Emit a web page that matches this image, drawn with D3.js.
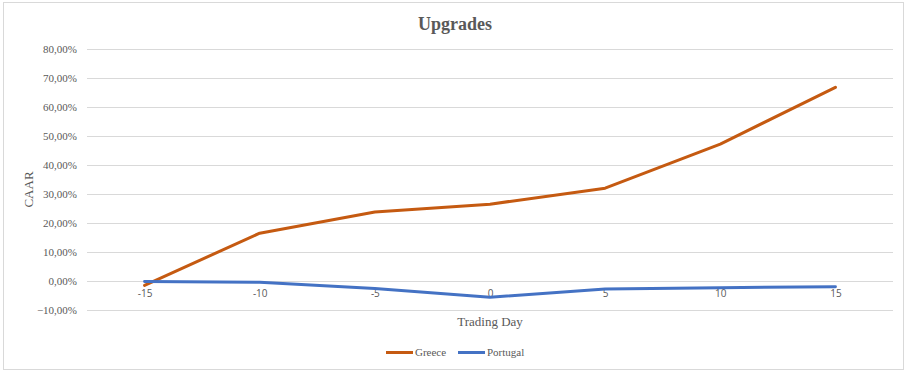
<!DOCTYPE html>
<html>
<head>
<meta charset="utf-8">
<script src="https://cdn.jsdelivr.net/npm/d3@7"></script>
<style>
  html, body { margin: 0; padding: 0; background: #fff; }
  svg { display: block; }
</style>
</head>
<body>
<svg id="chart" width="907" height="371"></svg>
<script>
// Trading days relative to the event
const days = [-15, -10, -5, 0, 5, 10, 15];
// Cumulative average abnormal returns (%)
const greece = [-1.5, 16.5, 23.8, 26.5, 32.0, 47.2, 66.8];
const portugal = [-0.2, -0.4, -2.6, -5.6, -2.8, -2.3, -2.0];
const yTicks = [-10, 0, 10, 20, 30, 40, 50, 60, 70, 80];
const seriesNames = ["Greece", "Portugal"];
const seriesColors = ["#C55A11", "#4472C4"];

const svg = d3.select("#chart");
const W = 907, H = 371;
const font = "'Liberation Serif', 'Times New Roman', serif";
const sans = "'Open Sans', 'Liberation Sans', sans-serif";
const textCol = "#595959";

// Outer chart frame
svg.append("rect")
  .attr("x", 3.5).attr("y", 2.5)
  .attr("width", W - 7).attr("height", H - 4)
  .attr("fill", "#fff")
  .attr("stroke", "#d9d9d9").attr("stroke-width", 1);

const plot = { left: 87, right: 893, top: 49, bottom: 310 };

const x = d3.scalePoint()
  .domain(days)
  .range([plot.left, plot.right])
  .padding(0.5);

const y = d3.scaleLinear()
  .domain([-10, 80])
  .range([plot.bottom, plot.top]);

// Horizontal gridlines
svg.append("g")
  .selectAll("line")
  .data(yTicks)
  .join("line")
  .attr("x1", plot.left).attr("x2", plot.right)
  .attr("y1", d => Math.round(y(d)) + 0.5)
  .attr("y2", d => Math.round(y(d)) + 0.5)
  .attr("stroke", "#d9d9d9").attr("stroke-width", 1);

// Y axis labels
const fmtPct = d => d3.format(".2f")(d).replace(".", ",") + "%";
const yAxis = d3.axisLeft(y).tickValues(yTicks).tickFormat(fmtPct).tickSize(0).tickPadding(0);
const gy = svg.append("g")
  .attr("transform", `translate(${plot.left - 10},0)`)
  .call(yAxis);
gy.select(".domain").remove();
gy.selectAll("text")
  .attr("font-family", font).attr("font-size", "11px").attr("fill", textCol);

// X axis labels sit just below the zero line
const xAxis = d3.axisBottom(x).tickSize(0).tickPadding(0);
const gx = svg.append("g")
  .attr("transform", `translate(0,${y(0) + 9})`)
  .call(xAxis);
gx.select(".domain").remove();
gx.selectAll("text")
  .attr("font-family", sans).attr("font-size", "10px").attr("fill", textCol);

// Series lines
const line = d3.line()
  .x((d, i) => x(days[i]))
  .y(d => y(d));

[greece, portugal].forEach((vals, i) => {
  svg.append("path")
    .datum(vals)
    .attr("d", line)
    .attr("fill", "none")
    .attr("stroke", seriesColors[i])
    .attr("stroke-width", 3)
    .attr("stroke-linejoin", "round")
    .attr("stroke-linecap", "round");
});

// Title
svg.append("text")
  .attr("x", 455).attr("y", 30)
  .attr("text-anchor", "middle")
  .attr("font-family", font).attr("font-size", "18px").attr("font-weight", "bold")
  .attr("fill", textCol)
  .text("Upgrades");

// Axis titles
svg.append("text")
  .attr("transform", `translate(33,${(plot.top + plot.bottom) / 2 + 10}) rotate(-90)`)
  .attr("text-anchor", "middle")
  .attr("font-family", font).attr("font-size", "13px")
  .attr("fill", textCol)
  .text("CAAR");

svg.append("text")
  .attr("x", 490).attr("y", 326)
  .attr("text-anchor", "middle")
  .attr("font-family", font).attr("font-size", "13px")
  .attr("fill", textCol)
  .text("Trading Day");

// Legend
const legendItems = [
  { name: seriesNames[0], color: seriesColors[0], x0: 386 },
  { name: seriesNames[1], color: seriesColors[1], x0: 458 }
];
const lg = svg.append("g");
legendItems.forEach(it => {
  lg.append("line")
    .attr("x1", it.x0).attr("x2", it.x0 + 27)
    .attr("y1", 352.5).attr("y2", 352.5)
    .attr("stroke", it.color).attr("stroke-width", 3);
  lg.append("text")
    .attr("x", it.x0 + 29).attr("y", 356)
    .attr("font-family", font).attr("font-size", "11px")
    .attr("fill", textCol)
    .text(it.name);
});
</script>
</body>
</html>
